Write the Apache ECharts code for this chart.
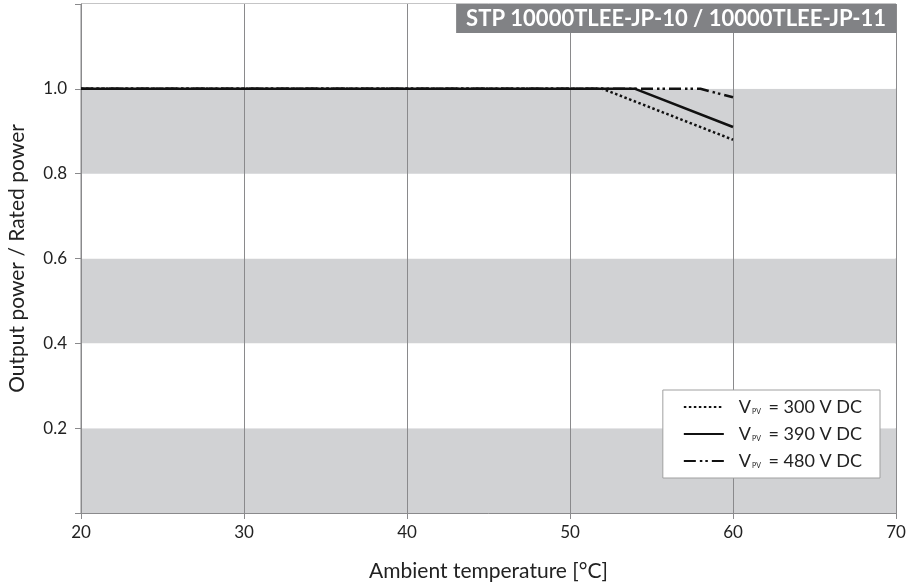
<!DOCTYPE html>
<html>
<head>
<meta charset="utf-8">
<script src="https://cdn.jsdelivr.net/npm/echarts@6/dist/echarts.min.js"></script>
<style>
  html, body { margin: 0; padding: 0; background: #fff; }
  #chart { width: 917px; height: 587px; }
</style>
</head>
<body>
<div id="chart"></div>
<script>
// ambient temperature [°C] / output power ratio for each PV voltage
var temps300 = [20, 52, 60];
var power300 = [1.0, 1.0, 0.88];
var temps390 = [20, 54, 60];
var power390 = [1.0, 1.0, 0.91];
var temps480 = [20, 58, 60];
var power480 = [1.0, 1.0, 0.98];
var voltages = ["300", "390", "480"];
var titleText = "STP 10000TLEE-JP-10 / 10000TLEE-JP-11";

function pairs(xs, ys) {
  return xs.map(function (x, i) { return [x, ys[i]]; });
}

var font = "Lato, 'Noto Sans', sans-serif";
var gray = "#8a8a8c";

var myChart = echarts.init(document.getElementById("chart"));
myChart.setOption({
  animation: false,
  textStyle: { fontFamily: font },
  title: {
    text: titleText,
    right: 21,
    top: 4,
    backgroundColor: "#818285",
    padding: [4, 10, 3, 10],
    textStyle: {
      color: "#fff",
      fontWeight: "bold",
      fontSize: 22,
      fontFamily: font
    }
  },
  grid: {
    left: 81,
    right: 21,
    top: 4,
    bottom: 74,
    outerBoundsMode: "none",
    containLabel: false,
    show: true,
    borderColor: gray,
    borderWidth: 1,
    backgroundColor: "#fff"
  },
  legend: {
    orient: "vertical",
    right: 37,
    top: 390,
    backgroundColor: "#fff",
    borderColor: "#a0a0a0",
    borderWidth: 1,
    borderRadius: 0,
    padding: [8, 18, 8, 20],
    itemWidth: 40,
    itemHeight: 14,
    itemGap: 9,
    data: voltages,
    itemStyle: { opacity: 0 },
    formatter: function (name) {
      return "{v|V}{s|PV}{t| = " + name + " V DC}";
    },
    textStyle: {
      color: "#222",
      rich: {
        v: { fontSize: 18, fontFamily: font, color: "#222", lineHeight: 20, padding: [0, 0, 0, 10] },
        s: { fontSize: 7, fontFamily: font, color: "#222", lineHeight: 20, padding: [9, 3, 0, 1] },
        t: { fontSize: 18, fontFamily: font, color: "#222", lineHeight: 20 }
      }
    }
  },
  xAxis: {
    type: "value",
    min: 20,
    max: 70,
    interval: 10,
    name: "Ambient temperature [°C]",
    nameLocation: "middle",
    nameGap: 48,
    nameTextStyle: { fontSize: 21, color: "#222", fontFamily: font },
    axisLine: { lineStyle: { color: gray, width: 1 } },
    axisTick: { show: true, length: 6, lineStyle: { color: gray } },
    axisLabel: { fontSize: 17, color: "#222", margin: 11 },
    splitLine: { show: true, lineStyle: { color: gray, width: 1 } }
  },
  yAxis: {
    type: "value",
    min: 0,
    max: 1.2,
    interval: 0.2,
    name: "Output power / Rated power",
    nameLocation: "middle",
    nameRotate: 90,
    nameGap: 53,
    nameTextStyle: { fontSize: 21, color: "#222", fontFamily: font },
    axisLine: { show: true, lineStyle: { color: gray, width: 1 } },
    axisTick: { show: true, length: 6, lineStyle: { color: gray } },
    axisLabel: {
      fontSize: 17,
      color: "#222",
      margin: 14,
      formatter: function (v) {
        if (v < 0.1 || v > 1.1) return "";
        return v.toFixed(1);
      }
    },
    splitLine: { show: false },
    splitArea: {
      show: true,
      areaStyle: { color: ["#d1d2d4", "#ffffff"] }
    }
  },
  series: [
    {
      name: "480",
      type: "line",
      symbol: "none",
      data: pairs(temps480, power480),
      lineStyle: { color: "#111", width: 2.5, type: [12, 4, 2.5, 3, 2.5, 4] },
      itemStyle: { color: "#111" },
      z: 3
    },
    {
      name: "300",
      type: "line",
      symbol: "none",
      data: pairs(temps300, power300),
      lineStyle: { color: "#111", width: 2.5, type: [2.5, 2.5] },
      itemStyle: { color: "#111" },
      z: 4
    },
    {
      name: "390",
      type: "line",
      symbol: "none",
      data: pairs(temps390, power390),
      lineStyle: { color: "#111", width: 2.5, type: "solid" },
      itemStyle: { color: "#111" },
      z: 5
    }
  ]
});
</script>
</body>
</html>
